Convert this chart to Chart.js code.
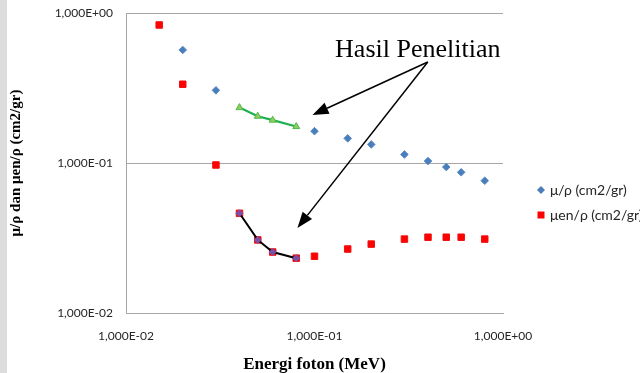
<!DOCTYPE html>
<html><head><meta charset="utf-8">
<script src="https://cdn.jsdelivr.net/npm/chart.js@4/dist/chart.umd.min.js"></script>
<style>html,body{margin:0;padding:0;background:#fff}#wrap{width:640px;height:373px;position:relative}</style>
</head><body><div id="wrap"><canvas id="c" width="640" height="373"></canvas></div>
<script>
// ---- data ----
const energyMu = [0.02, 0.03, 0.1, 0.15, 0.2, 0.3, 0.4, 0.5, 0.6, 0.8];
const muRho = [0.567, 0.305, 0.163, 0.146, 0.133, 0.114, 0.103, 0.094, 0.0867, 0.0762];
const energyMuEn = [0.015, 0.02, 0.03, 0.04, 0.05, 0.06, 0.08, 0.1, 0.15, 0.2, 0.3, 0.4, 0.5, 0.6, 0.8];
const muEnRho = [0.832, 0.335, 0.097, 0.0462, 0.0307, 0.0255, 0.0232, 0.0239, 0.0267, 0.0288, 0.0311, 0.0320, 0.0320, 0.0320, 0.0311];
const energyStudy = [0.04, 0.05, 0.06, 0.08];
const muRhoStudy = [0.234, 0.205, 0.193, 0.175];
const muEnRhoStudy = [0.0462, 0.0307, 0.0255, 0.0232];
const tickValues = [0.01, 0.1, 1];
const seriesLabels = ['μ/ρ (cm2/gr)', 'μen/ρ (cm2/gr)'];
const axisTitleX = 'Energi foton (MeV)';
const axisTitleY = 'μ/ρ dan μen/ρ (cm2/gr)';
const noteText = 'Hasil Penelitian';

function pts(xs, ys) { return xs.map((x, i) => ({ x: x, y: ys[i] })); }
function sci(v) {
  const e = Math.round(Math.log10(v));
  return '1,000E' + (e < 0 ? '-' : '+') + String(Math.abs(e)).padStart(2, '0');
}

const noteCfg = {
  text: { x: 0.353, y: 0.567 },
  from: { x: 0.399, y: 0.471 },
  tips: [{ x: 0.0976, y: 0.209 }, { x: 0.0812, y: 0.0369 }]
};

const bgPlugin = {
  id: 'bg',
  beforeDraw(chart) {
    const ctx = chart.ctx;
    ctx.save();
    ctx.fillStyle = '#ffffff';
    ctx.fillRect(0, 0, chart.width, chart.height);
    ctx.fillStyle = '#dcdcdc';
    ctx.fillRect(0, 0, 7, chart.height);
    ctx.restore();
  }
};

function arrow(ctx, x0, y0, x1, y1) {
  const ang = Math.atan2(y1 - y0, x1 - x0);
  const L = 16, W = 6;
  const bx = x1 - L * Math.cos(ang), by = y1 - L * Math.sin(ang);
  ctx.beginPath();
  ctx.moveTo(x0, y0);
  ctx.lineTo(bx, by);
  ctx.stroke();
  ctx.beginPath();
  ctx.moveTo(x1, y1);
  ctx.lineTo(bx + W * Math.sin(ang), by - W * Math.cos(ang));
  ctx.lineTo(bx - W * Math.sin(ang), by + W * Math.cos(ang));
  ctx.closePath();
  ctx.fill();
}

const notePlugin = {
  id: 'note',
  afterDraw(chart) {
    const ctx = chart.ctx, xs = chart.scales.x, ys = chart.scales.y;
    ctx.save();
    ctx.fillStyle = '#000';
    ctx.strokeStyle = '#000';
    ctx.lineWidth = 1.5;
    ctx.font = '26px "Liberation Serif"';
    ctx.textAlign = 'center';
    ctx.textBaseline = 'middle';
    ctx.fillText(noteText, xs.getPixelForValue(noteCfg.text.x), ys.getPixelForValue(noteCfg.text.y));
    const fx = xs.getPixelForValue(noteCfg.from.x), fy = ys.getPixelForValue(noteCfg.from.y);
    noteCfg.tips.forEach(t => arrow(ctx, fx, fy, xs.getPixelForValue(t.x), ys.getPixelForValue(t.y)));
    ctx.restore();
  }
};

const legendPlugin = {
  id: 'customLegend',
  afterDraw(chart) {
    const ctx = chart.ctx;
    const ds = chart.data.datasets;
    const items = [ds[2], ds[3]];
    const x0 = 541, y0 = 190, step = 25;
    ctx.save();
    ctx.font = '14px Lato';
    ctx.textBaseline = 'middle';
    ctx.textAlign = 'left';
    items.forEach((d, i) => {
      const y = y0 + i * step;
      ctx.fillStyle = d.pointBackgroundColor;
      ctx.beginPath();
      if (d.pointStyle === 'rectRot') {
        ctx.moveTo(x0, y - 4); ctx.lineTo(x0 + 4, y); ctx.lineTo(x0, y + 4); ctx.lineTo(x0 - 4, y);
        ctx.closePath();
      } else {
        ctx.rect(x0 - 3.5, y - 3.5, 7, 7);
      }
      ctx.fill();
      ctx.fillStyle = '#262626';
      ctx.fillText(d.label, x0 + 9, y);
    });
    ctx.restore();
  }
};

new Chart(document.getElementById('c'), {
  type: 'scatter',
  data: {
    datasets: [
      { label: 'Hasil Penelitian μ/ρ', data: pts(energyStudy, muRhoStudy), showLine: true, tension: 0,
        borderColor: '#1fb04f', borderWidth: 2.2, pointStyle: 'triangle', pointRadius: 4,
        pointBackgroundColor: '#8fcf5c', pointBorderColor: '#4fb84a', pointBorderWidth: 1 },
      { label: 'Hasil Penelitian μen/ρ', data: pts(energyStudy, muEnRhoStudy), showLine: true, tension: 0,
        borderColor: '#000000', borderWidth: 2, pointStyle: 'rectRot', pointRadius: 3.5,
        pointBackgroundColor: '#7b4fa6', pointBorderColor: '#7b4fa6', pointBorderWidth: 1 },
      { label: seriesLabels[0], data: pts(energyMu, muRho), showLine: false,
        pointStyle: 'rectRot', pointRadius: 3.8, pointBackgroundColor: '#4a7ebb',
        pointBorderColor: '#5a8ac6', pointBorderWidth: 1 },
      { label: seriesLabels[1], data: pts(energyMuEn, muEnRho), showLine: false,
        pointStyle: 'rect', pointRadius: 4.6, pointBackgroundColor: '#ff0000',
        pointBorderColor: '#f01010', pointBorderWidth: 1 }
    ]
  },
  options: {
    responsive: false,
    animation: false,
    devicePixelRatio: 1,
    layout: { padding: { top: 13, right: 137, bottom: 0, left: 0 } },
    plugins: { legend: { display: false }, tooltip: { enabled: false } },
    scales: {
      x: {
        type: 'logarithmic', min: 0.01, max: 1,
        afterBuildTicks: s => { s.ticks = tickValues.map(v => ({ value: v })); },
        afterFit: s => { s.height = 60; s.paddingLeft = 0; s.paddingRight = 0; },
        grid: { display: false, drawTicks: false },
        border: { display: true, color: '#a6a6a6', width: 1 },
        ticks: { callback: v => sci(v), padding: 16, autoSkip: false, maxRotation: 0,
          font: { family: 'Lato', size: 12 }, color: '#262626' },
        title: { display: true, text: axisTitleX, color: '#000', padding: 0,
          font: { family: 'Liberation Serif', size: 17, weight: 'bold', lineHeight: 1.0 } }
      },
      y: {
        type: 'logarithmic', min: 0.01, max: 1,
        afterBuildTicks: s => { s.ticks = tickValues.map(v => ({ value: v })); },
        afterFit: s => { s.width = 126; s.paddingTop = 0; s.paddingBottom = 0; },
        grid: { display: true, drawTicks: false, color: '#a6a6a6', lineWidth: 1 },
        border: { display: true, color: '#a6a6a6', width: 1 },
        ticks: { callback: v => sci(v), padding: 13, autoSkip: false,
          font: { family: 'Lato', size: 12 }, color: '#262626' },
        title: { display: true, text: axisTitleY, color: '#000', padding: { top: 7, bottom: 0 },
          font: { family: 'Liberation Serif', size: 15, weight: 'bold' } }
      }
    }
  },
  plugins: [bgPlugin, notePlugin, legendPlugin]
});
</script>
</body></html>
